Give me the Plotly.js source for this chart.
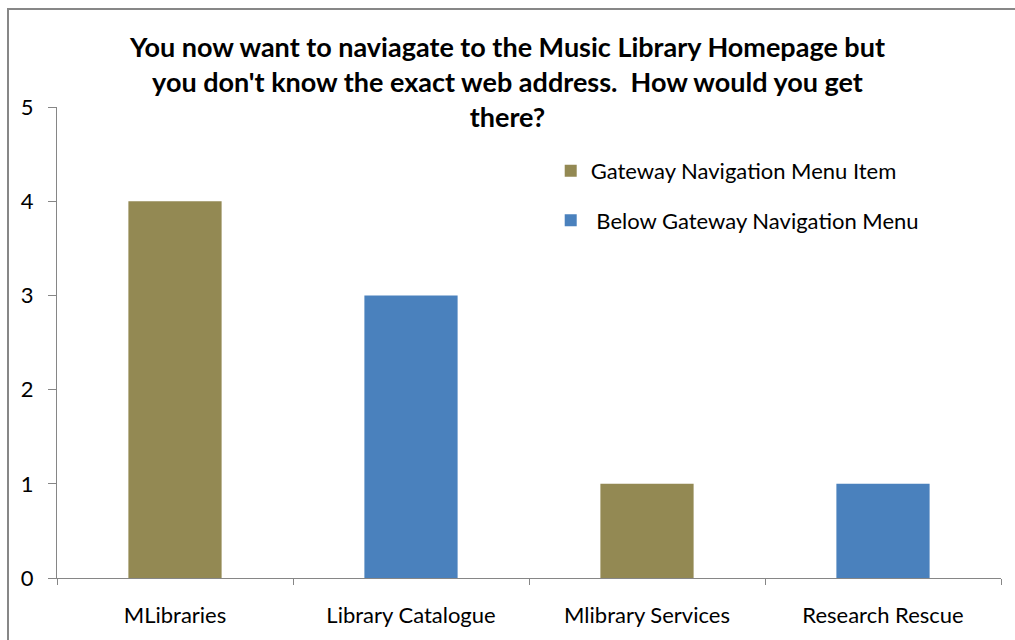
<!DOCTYPE html>
<html>
<head>
<meta charset="utf-8">
<script src="https://cdn.plot.ly/plotly-3.0.1.min.js"></script>
<style>
  html, body { margin: 0; padding: 0; background: #fff; }
  #wrap { position: relative; width: 1015px; height: 640px; overflow: hidden; }
  #chart { position: absolute; left: 0; top: 0; width: 1015px; height: 640px; }
  #frame { position: absolute; left: 7px; top: 8px; width: 1100px; height: 700px;
           border-left: 2px solid #878787; border-top: 2px solid #878787; pointer-events: none; }
</style>
</head>
<body>
<div id="wrap">
  <div id="chart"></div>
  <div id="frame"></div>
</div>
<script>
const categories = ["MLibraries", "Library Catalogue", "Mlibrary Services", "Research Rescue"];
const gatewayValues = [4, null, 1, null];
const belowValues = [null, 3, null, 1];
const seriesNames = ["Gateway Navigation Menu Item", "\u00a0Below Gateway Navigation Menu"];
const yTicks = [0, 1, 2, 3, 4, 5];

const FONT = "Lato, 'Open Sans', sans-serif";

const traces = [
  { type: "bar", x: categories, y: gatewayValues, name: seriesNames[0],
    marker: { color: "#938953" }, legendgroup: "g1", hoverinfo: "x+y" },
  { type: "bar", x: categories, y: belowValues, name: seriesNames[1],
    marker: { color: "#4a81bd" }, legendgroup: "g2", hoverinfo: "x+y" }
];

const layout = {
  width: 1015, height: 640,
  paper_bgcolor: "#ffffff", plot_bgcolor: "#ffffff",
  margin: { l: 57, r: 14, t: 107, b: 62 },
  barmode: "overlay",
  bargap: 0.605,
  font: { family: FONT, color: "#000000", size: 22 },
  title: {
    text: "You now want to naviagate to the Music Library Homepage but<br>you don't know the exact web address.\u00a0 How would you get<br>there?",
    font: { family: FONT, size: 27, color: "#000000", weight: "bold" },
    x: 0.5, xref: "container", xanchor: "center",
    y: 1 - 57/640, yref: "container", yanchor: "top"
  },
  xaxis: {
    type: "category",
    showline: true, linecolor: "#868686", linewidth: 1,
    ticks: "outside", ticklen: 6, tickcolor: "#868686",
    tickson: "boundaries",
    showgrid: false, zeroline: false,
    tickfont: { family: FONT, size: 22, color: "#000000" },
    ticklabelstandoff: 18,
    range: [-0.5, 3.5]
  },
  yaxis: {
    range: [0, 5],
    tickvals: yTicks,
    showline: true, linecolor: "#868686", linewidth: 1,
    ticks: "outside", ticklen: 8, tickcolor: "#868686",
    showgrid: false, zeroline: false,
    tickfont: { family: FONT, size: 22, color: "#000000" },
    ticklabelstandoff: 10
  },
  legend: {
    x: 0.523, y: 0.909, xref: "paper", yref: "paper",
    xanchor: "left", yanchor: "top",
    bgcolor: "rgba(0,0,0,0)",
    font: { family: FONT, size: 22, color: "#000000" },
    tracegroupgap: 18,
    itemwidth: 30
  },
  showlegend: true
};

Plotly.newPlot("chart", traces, layout, { displayModeBar: false, staticPlot: true });
</script>
</body>
</html>
